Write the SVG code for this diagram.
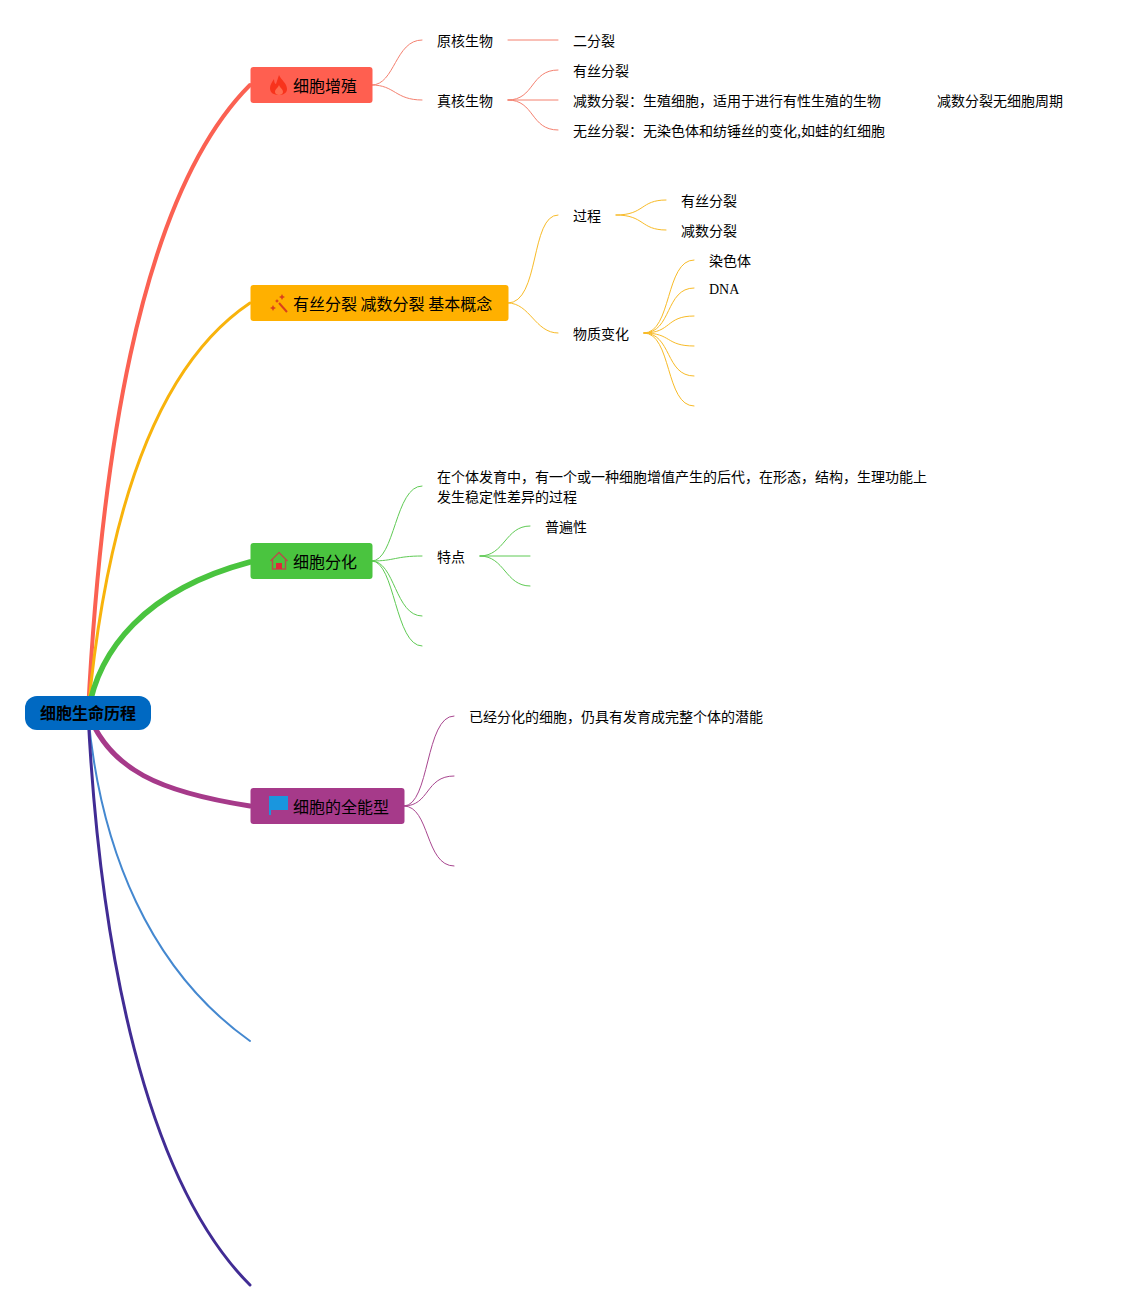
<svg xmlns="http://www.w3.org/2000/svg" width="1123" height="1311" viewBox="0 0 1123 1311">
<style>
text{font-family:"Noto Sans CJK SC","Liberation Sans",sans-serif;font-size:14px;fill:#000}
.t{font-size:16px}
.s{font-family:"Liberation Serif",serif}
.c{fill:none;stroke-width:1}
.r{stroke:#f4806f}.y{stroke:#f8bb28}.g{stroke:#5fca54}.p{stroke:#a8468f}
</style>
<rect width="1123" height="1311" fill="#fff"/>
<g id="connectors" fill="none" stroke-linecap="round">
<path d="M88 713C100 480 135 200 250 85" stroke="#fb6152" stroke-width="4"/>
<path d="M88 713C105 530 150 370 250 303" stroke="#f8b30c" stroke-width="3"/>
<path d="M88 713C98 650 145 590 250 562" stroke="#4ac43f" stroke-width="5.5"/>
<path d="M88 713C110 770 160 792 250 806" stroke="#a63a8a" stroke-width="5"/>
<path d="M88 713C100 850 150 970 250 1041" stroke="#4488d0" stroke-width="2"/>
<path d="M88 713C100 950 145 1180 250 1285" stroke="#412c94" stroke-width="3"/>
<path class="c r" d="M372 85C395 85 395 40 422 40"/>
<path class="c r" d="M372 85C395 85 395 100 422 100"/>
<path class="c r" d="M508 40H558"/>
<path class="c r" d="M508 100C535 100 530 70 558 70"/>
<path class="c r" d="M508 100H558"/>
<path class="c r" d="M508 100C535 100 530 130 558 130"/>
<path class="c y" d="M508 303C540 303 530 215 558 215"/>
<path class="c y" d="M508 303C530 303 535 333 558 333"/>
<path class="c y" d="M616 215C645 215 640 200 666 200"/>
<path class="c y" d="M616 215C645 215 640 230 666 230"/>
<path class="c y" d="M644 333C672 333 665 260 694 260"/>
<path class="c y" d="M644 333C672 333 665 288 694 288"/>
<path class="c y" d="M644 333C672 333 665 316 694 316"/>
<path class="c y" d="M644 333C672 333 665 346 694 346"/>
<path class="c y" d="M644 333C672 333 665 376 694 376"/>
<path class="c y" d="M644 333C672 333 665 406 694 406"/>
<path class="c g" d="M372 561C395 561 395 486 422 486"/>
<path class="c g" d="M372 561C395 561 395 556 422 556"/>
<path class="c g" d="M372 561C395 561 395 616 422 616"/>
<path class="c g" d="M372 561C395 561 395 646 422 646"/>
<path class="c g" d="M480 556C505 556 505 526 530 526"/>
<path class="c g" d="M480 556H530"/>
<path class="c g" d="M480 556C505 556 505 586 530 586"/>
<path class="c p" d="M404 806C430 806 425 716 454 716"/>
<path class="c p" d="M404 806C430 806 425 776 454 776"/>
<path class="c p" d="M404 806C430 806 425 866 454 866"/>
</g>
<g id="root"><rect x="25" y="696" width="126" height="34" rx="12" fill="#0069c2"/><text class="t" x="40" y="719" font-weight="bold">细胞生命历程</text></g>
<g id="n1"><rect x="250.500" y="67" width="122" height="36" rx="3" fill="#ff5f50"/>
<path d="M279 75C281 80 287 83 287 89C287 93 283 95 279 95C274 95 270 93 270 88C270 85 272 82 274 79C274 82 275 84 276 84C277 81 278 78 279 75Z" fill="#f8331c"/>
<path d="M279 85C280 88 283 89 283 92C283 94 281 95 279 95C277 95 275 94 275 92C275 89 278 88 279 85Z" fill="#ff6b50"/>
<text class="t" x="293" y="92">细胞增殖</text></g>
<g id="n2"><rect x="250.500" y="285" width="258" height="36" rx="3" fill="#ffb000"/>
<path d="M279 303L287 312" stroke="#d9401c" stroke-width="2" fill="none"/><path d="M282 294l1 2 2 1-2 1-1 2-1-2-2-1 2-1zM273 305l1 2 2 1-2 1-1 2-1-2-2-1 2-1zM277 299l.7 1.300 1.300.7-1.300.7-.7 1.300-.7-1.300-1.300-.7 1.300-.7z" fill="#d9401c"/>
<text class="t" x="293" y="310">有丝分裂 减数分裂 基本概念</text></g>
<g id="n3"><rect x="250.500" y="543" width="122" height="36" rx="3" fill="#4ac43f"/>
<path d="M270.500 561L279 552.500L287.500 561M272.500 559V569H285.500V559" fill="none" stroke="#b5514a" stroke-width="1.500"/><rect x="276" y="563" width="6" height="6" fill="#e0283a"/>
<text class="t" x="293" y="568">细胞分化</text></g>
<g id="n4"><rect x="250.500" y="788" width="154" height="36" rx="3" fill="#a63a8a"/>
<path d="M269 796H288V810H271V815H269Z" fill="#1a96de"/>
<text class="t" x="293" y="813">细胞的全能型</text></g>
<g id="t1"><text x="437" y="46">原核生物</text></g>
<g id="t2"><text x="437" y="106">真核生物</text></g>
<g id="t3"><text x="573" y="46">二分裂</text></g>
<g id="t4"><text x="573" y="76">有丝分裂</text></g>
<g id="t5"><text x="573" y="106">减数分裂：生殖细胞，适用于进行有性生殖的生物</text></g>
<g id="t6"><text x="937" y="106">减数分裂无细胞周期</text></g>
<g id="t7"><text x="573" y="136">无丝分裂：无染色体和纺锤丝的变化,如蛙的红细胞</text></g>
<g id="t8"><text x="573" y="221">过程</text></g>
<g id="t9"><text x="681" y="206">有丝分裂</text></g>
<g id="t10"><text x="681" y="236">减数分裂</text></g>
<g id="t11"><text x="573" y="339">物质变化</text></g>
<g id="t12"><text x="709" y="266">染色体</text></g>
<g id="t13"><text class="s" x="709" y="294">DNA</text></g>
<g id="t14"><text x="437" y="482">在个体发育中，有一个或一种细胞增值产生的后代，在形态，结构，生理功能上</text><text x="437" y="502">发生稳定性差异的过程</text></g>
<g id="t15"><text x="437" y="562">特点</text></g>
<g id="t16"><text x="545" y="532">普遍性</text></g>
<g id="t17"><text x="469" y="722">已经分化的细胞，仍具有发育成完整个体的潜能</text></g>
</svg>
